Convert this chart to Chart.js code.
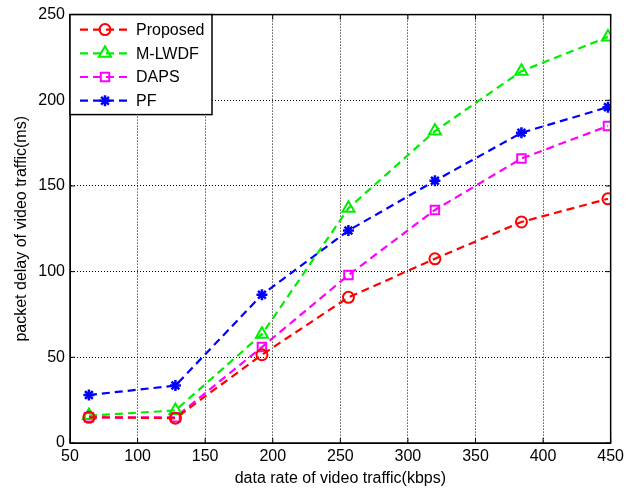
<!DOCTYPE html>
<html><head><meta charset="utf-8">
<script src="https://cdn.jsdelivr.net/npm/chart.js@4/dist/chart.umd.min.js"></script>
<style>html,body{margin:0;padding:0;background:#fff}#wrap{width:628px;height:491px}</style>
</head><body><div id="wrap"><canvas id="c" width="628" height="491"></canvas></div>
<script>
const xValues = [64, 128, 192, 256, 320, 384, 448];
const proposed = [15, 14.5, 51.5, 85, 107.5, 129, 142.5];
const mlwdf = [16, 19, 63.5, 137, 182, 217, 237];
const daps = [15, 15, 56, 98, 136, 166, 185];
const pf = [28, 33.5, 86.5, 124, 153, 181, 196];
const seriesNames = ['Proposed', 'M-LWDF', 'DAPS', 'PF'];
const xTicks = [50, 100, 150, 200, 250, 300, 350, 400, 450];
const yTicks = [0, 50, 100, 150, 200, 250];

const FONT = 'Liberation Sans, Arial, sans-serif';
function mk(vals){ return xValues.map((x,i)=>({x:x,y:vals[i]})); }
const styles = [
  {c:'#ff0000', p:'circle', r:5.5},
  {c:'#00ee00', p:'triangle', r:7},
  {c:'#ff00ff', p:'rect', r:6},
  {c:'#0000ff', p:'star', r:5.5}
];
const allVals = [proposed, mlwdf, daps, pf];
const datasets = allVals.map((v,i)=>({
  label: seriesNames[i], data: mk(v),
  borderColor: styles[i].c, backgroundColor: 'rgba(0,0,0,0)',
  borderWidth: 2.2, borderDash: [8,5],
  pointStyle: styles[i].p, pointRadius: styles[i].r,
  pointBorderWidth: i===3 ? 2.5 : 2, pointBorderColor: styles[i].c,
  pointBackgroundColor: i===3 ? styles[i].c : 'rgba(0,0,0,0)',
  tension: 0
}));

const boxPlugin = {
  id: 'box',
  afterDatasetsDraw(chart){
    const {ctx, chartArea:a} = chart;
    ctx.save();
    ctx.strokeStyle = '#000'; ctx.lineWidth = 1.5;
    ctx.strokeRect(a.left, a.top, a.right-a.left, a.bottom-a.top);
    ctx.lineWidth = 1;
    const xs = chart.scales.x, ys = chart.scales.y;
    xTicks.forEach(t=>{const px = xs.getPixelForValue(t);
      ctx.beginPath(); ctx.moveTo(px,a.bottom); ctx.lineTo(px,a.bottom-5);
      ctx.moveTo(px,a.top); ctx.lineTo(px,a.top+5); ctx.stroke();});
    yTicks.forEach(t=>{const py = ys.getPixelForValue(t);
      ctx.beginPath(); ctx.moveTo(a.left,py); ctx.lineTo(a.left+5,py);
      ctx.moveTo(a.right,py); ctx.lineTo(a.right-5,py); ctx.stroke();});
    const lx = a.left, ly = a.top, lw = 142, lh = 100;
    ctx.fillStyle = '#fff'; ctx.fillRect(lx, ly, lw, lh);
    ctx.strokeStyle = '#000'; ctx.lineWidth = 1.5;
    ctx.strokeRect(lx, ly, lw, lh);
    chart.data.datasets.forEach((ds,i)=>{
      const y = ly + 15 + i*23.7;
      ctx.strokeStyle = ds.borderColor; ctx.lineWidth = 2.2;
      ctx.setLineDash([8,5]);
      ctx.beginPath(); ctx.moveTo(lx+10, y); ctx.lineTo(lx+58, y); ctx.stroke();
      ctx.setLineDash([]);
      ctx.strokeStyle = ds.borderColor;
      ctx.fillStyle = ds.pointBackgroundColor;
      ctx.lineWidth = ds.pointBorderWidth;
      Chart.helpers.drawPoint(ctx, {pointStyle: ds.pointStyle, radius: ds.pointRadius, borderWidth: ds.pointBorderWidth, rotation: 0}, lx+35, y);
      ctx.fillStyle = '#000'; ctx.font = '16px ' + FONT;
      ctx.textBaseline = 'middle'; ctx.textAlign = 'left';
      ctx.fillText(ds.label, lx+66, y+1);
    });
    ctx.restore();
  }
};

new Chart(document.getElementById('c'), {
  type: 'line',
  data: { datasets },
  options: {
    responsive: false, animation: false,
    layout: { padding: { top: 13, right: 12, left: 0, bottom: 0 } },
    plugins: { legend: { display: false }, tooltip: { enabled: false } },
    scales: {
      x: {
        type: 'linear', min: 50, max: 450,
        afterBuildTicks: s => { s.ticks = xTicks.map(v=>({value:v})); },
        afterFit: s => { s.height = 48; },
        grid: { color: '#000', lineWidth: 1, drawTicks: false },
        border: { display: true, color: '#000', width: 1, dash: [1,2] },
        ticks: { color: '#000', font: { family: FONT, size: 16 }, padding: 4, maxRotation: 0 },
        title: { display: true, text: 'data rate of video traffic(kbps)', color: '#000', font: { family: FONT, size: 16 }, padding: { top: 0, bottom: 3 } }
      },
      y: {
        type: 'linear', min: 0, max: 250,
        afterBuildTicks: s => { s.ticks = yTicks.map(v=>({value:v})); },
        afterFit: s => { s.width = 70; },
        grid: { color: '#000', lineWidth: 1, drawTicks: false },
        border: { display: true, color: '#000', width: 1, dash: [1,2] },
        ticks: { color: '#000', font: { family: FONT, size: 16 }, padding: 5 },
        title: { display: true, text: 'packet delay of video traffic(ms)', color: '#000', font: { family: FONT, size: 16 }, padding: { top: 12, bottom: 0 } }
      }
    }
  },
  plugins: [boxPlugin]
});
</script>
</body></html>
